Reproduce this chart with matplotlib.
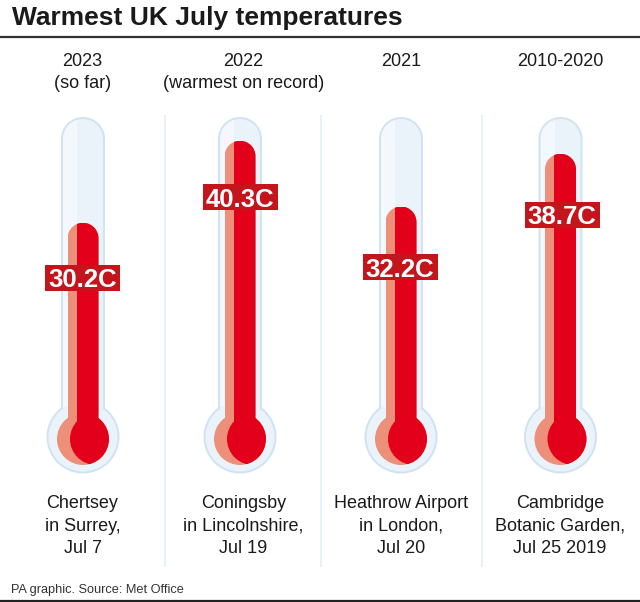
"""Warmest UK July temperatures, four thermometers."""

import matplotlib
matplotlib.use("Agg")
import matplotlib.pyplot as plt
import numpy as np
from matplotlib.patches import Circle, Ellipse, PathPatch, Rectangle
from matplotlib.path import Path

plt.rcParams["font.family"] = ["Liberation Sans", "DejaVu Sans"]

title = "Warmest UK July temperatures"
source = "PA graphic. Source: Met Office"
periods = ["2023\n(so far)", "2022\n(warmest on record)", "2021", "2010-2020"]
temps = [30.2, 40.3, 32.2, 38.7]
places = ["Chertsey\nin Surrey,\nJul 7", "Coningsby\nin Lincolnshire,\nJul 19",
          "Heathrow Airport\nin London,\nJul 20", "Cambridge\nBotanic Garden,\nJul 25 2019"]

W, H = 640, 602
PX_PER_DEG = 8.12
ZERO_PX = 468
BULB_PX = 439
centers = [83, 240, 401, 560.5]
text_x = [82.5, 243.5, 401, 560]
label_drop = [55, 56.7, 60.5, 61]
label_shift = [-0.5, 0, -1, 1.5]
dividers = [165, 321, 482]

DARK = "#e2001a"
LIGHT = "#ec907a"
BOX = "#c4141c"
GLASS = "#ebf3fa"
GLASS_LITE = "#f4f8fc"
EDGE = "#d0e3f2"
INK = "#1a1a1a"

fig = plt.figure(figsize=(W / 100, H / 100), dpi=100)

# layout axes in pixels: glass, text, rules
ax = fig.add_axes([0, 0, 1, 1], zorder=1)
ax.set_xlim(0, W)
ax.set_ylim(H, 0)
ax.axis("off")

# temperature axes on top: mercury and value labels
ax_t = fig.add_axes([0, 0, 1, 1], zorder=2)
ax_t.set_xlim(0, W)
ax_t.set_ylim((ZERO_PX - H) / PX_PER_DEG, ZERO_PX / PX_PER_DEG)
ax_t.axis("off")
ax_t.patch.set_alpha(0)


def pill(cx, half, top, bottom):
    # true half circle on top, FancyBboxPatch corners come out too square
    arc = Path.arc(0, 180)
    xs = cx + half * arc.vertices[:, 0]
    ys = top + half - half * arc.vertices[:, 1]
    verts = np.column_stack([xs, ys])
    verts = np.vstack([[cx + half, bottom], verts, [cx - half, bottom], [cx + half, bottom]])
    codes = [Path.MOVETO] + [Path.LINETO] + list(arc.codes[1:]) + [Path.LINETO, Path.CLOSEPOLY]
    return Path(verts, codes)


def glass(cx):
    half = 22
    tube_top = 117
    bulb_y = 437
    # outline first, then fill over it so tube and bulb read as one shape
    for grow, col in [(0, EDGE), (-2, GLASS)]:
        ax.add_patch(PathPatch(pill(cx, half + grow, tube_top - grow, bulb_y), fc=col, ec="none"))
        ax.add_patch(Circle((cx, bulb_y), 36.5 + grow, fc=col, ec="none"))
    # lighter strip on the left of the tube
    strip = Rectangle((cx - half + 2, tube_top), 14, bulb_y - tube_top - 30,
                      fc=GLASS_LITE, ec="none")
    ax.add_patch(strip)
    clip = PathPatch(pill(cx, half - 2, tube_top + 2, bulb_y), transform=ax.transData,
                     fc="none", ec="none")
    ax.add_patch(clip)
    strip.set_clip_path(clip)


def mercury(cx, t, drop, shift):
    half = 15.5
    split = cx - 6.5
    bulb_t = (ZERO_PX - BULB_PX) / PX_PER_DEG
    bulb_h = 2 * 26 / PX_PER_DEG

    ax_t.add_patch(Ellipse((cx, bulb_t), 52, bulb_h, fc=LIGHT, ec="none", zorder=0.5))

    # rounded top comes from clipping the bars to a pill that ends at t
    top_px = ZERO_PX - t * PX_PER_DEG
    clip = PathPatch(pill(cx, half, top_px, BULB_PX + 20), transform=ax.transData,
                     fc="none", ec="none")
    ax.add_patch(clip)

    light_bar = ax_t.bar(cx, t - bulb_t, bottom=bulb_t, width=2 * half, color=LIGHT, lw=0)
    dark_bar = ax_t.bar(split, t - bulb_t, bottom=bulb_t, width=cx + half - split,
                        color=DARK, align="edge", lw=0)
    for b in list(light_bar) + list(dark_bar):
        b.set_clip_path(clip)

    # dark bulb is the bulb cut by the same circle moved right
    dark = Ellipse((cx, bulb_t), 52, bulb_h, fc=DARK, ec="none", zorder=1.6)
    cut = Ellipse((cx + 13, bulb_t), 52, bulb_h, transform=ax_t.transData)
    ax_t.add_patch(dark)
    dark.set_clip_path(cut)

    box_w, box_h = 75, 26
    ax_t.add_patch(Rectangle((cx + shift - box_w / 2, t - (drop + box_h / 2) / PX_PER_DEG),
                             box_w, box_h / PX_PER_DEG, fc=BOX, ec="none", zorder=2.5))
    ax_t.annotate(f"{t}C", (cx, t), xytext=(shift, -drop), textcoords="offset pixels",
                  ha="center", va="center_baseline", color="white", fontsize=18.5,
                  fontweight="bold", zorder=3)


for cx, t, drop, shift in zip(centers, temps, label_drop, label_shift):
    glass(cx)
    mercury(cx, t, drop, shift)

for x in dividers:
    ax.plot([x, x], [115, 567], color="#e6f0f8", lw=1.3, solid_capstyle="butt")

ax.plot([0, W], [36.5, 36.5], color="#333333", lw=1.6, solid_capstyle="butt")
ax.plot([0, W], [601, 601], color="#222222", lw=1.6, solid_capstyle="butt")

ax.text(12, 18.5, title, fontsize=19, fontweight="bold", color=INK, va="center", ha="left")
ax.text(11, 590, source, fontsize=9.2, color="#333333", va="center", ha="left")

for x, period, place in zip(text_x, periods, places):
    ax.text(x, 53, period, fontsize=13, color=INK, ha="center", va="top", linespacing=1.42)
    ax.text(x, 495.5, place, fontsize=13, color=INK, ha="center", va="top", linespacing=1.42)

fig.savefig("out.png", dpi=100)
